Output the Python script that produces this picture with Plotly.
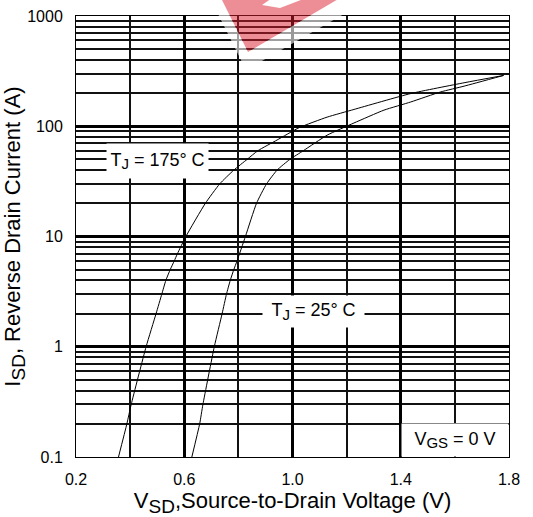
import plotly.graph_objects as go

# ---- data ----
v_175 = [0.357, 0.388, 0.404, 0.459, 0.496, 0.517, 0.532, 0.548, 0.563, 0.575, 0.606,
         0.678, 0.731, 0.783, 0.832, 0.872, 0.943, 1.024, 1.128, 1.227, 1.437, 1.634, 1.78]
i_175 = [0.1, 0.2, 0.3, 1, 2, 3, 4, 5, 6, 7, 10,
         20, 30, 40, 50, 60, 75, 97, 121, 142, 198, 248, 289]

v_25 = [0.628, 0.657, 0.669, 0.711, 0.740, 0.756, 0.770, 0.783, 0.795, 0.826,
        0.867, 0.904, 0.943, 0.99, 1.04, 1.128, 1.227, 1.338, 1.437, 1.548, 1.634, 1.78]
i_25 = [0.1, 0.2, 0.3, 1, 2, 3, 4, 5, 6, 10,
        20, 30, 40, 50, 60, 83, 107, 140, 166, 205, 231, 289]

x_ticks = [0.2, 0.6, 1.0, 1.4, 1.8]
x_ticktext = ["0.2", "0.6", "1.0", "1.4", "1.8"]
x_minor = [0.4, 0.8, 1.2, 1.6]
y_ticks = [0.1, 1, 10, 100, 1000]
y_ticktext = ["0.1", "1", "10", "100", "1000"]
y_minor = [m * d for d in [0.1, 1, 10, 100] for m in range(2, 10)]

FONT = "Liberation Sans, Arial, sans-serif"

fig = go.Figure()
fig.add_trace(go.Scatter(x=v_175, y=i_175, mode="lines",
                         line=dict(color="black", width=1, shape="spline", smoothing=0.5),
                         showlegend=False, hoverinfo="skip"))
fig.add_trace(go.Scatter(x=v_25, y=i_25, mode="lines",
                         line=dict(color="black", width=1, shape="spline", smoothing=0.5),
                         showlegend=False, hoverinfo="skip"))

W, H = 533, 517
L, R, T, B = 76, 24, 16, 60
PW, PH = W - L - R, H - T - B


def px(xp, yp):
    return (xp - L) / PW, (H - B - yp) / PH


def path(points, close=True):
    s = ""
    for k, (a, b) in enumerate(points):
        xp, yp = px(a, b)
        s += ("M" if k == 0 else "L") + f"{xp:.4f},{yp:.4f}"
    return s + ("Z" if close else "")


# watermark fragment (decoration)
outer = [(210, -2), (372, -2), (246, 70)]
inner = [(221, -2), (340, -2), (248, 52)]
shapes = [
    dict(type="path", xref="paper", yref="paper", layer="above",
         path=path(outer) + path(inner), fillrule="evenodd",
         fillcolor="rgba(255,255,255,0.6)", line=dict(width=0)),
    dict(type="path", xref="paper", yref="paper", layer="above",
         path=path(inner), fillcolor="rgba(220,30,45,0.5)", line=dict(width=0)),
    dict(type="path", xref="paper", yref="paper", layer="above",
         path=path([(262, 5), (280, 8), (306, -2), (272, -2)]),
         fillcolor="white", line=dict(width=0)),
]

ann_font = dict(family=FONT, size=18, color="black")
sub = lambda s, sz=15: f'<sub><span style="font-size:{sz}px">{s}</span></sub>'
annotations = [
    dict(x=0.502, y=1.682, xref="x", yref="y", text="T" + sub("J") + " = 175° C",
         showarrow=False, bgcolor="white", width=101, height=34, borderpad=0,
         font=ann_font),
    dict(x=1.078, y=0.318, xref="x", yref="y", text="T" + sub("J") + " = 25° C",
         showarrow=False, bgcolor="white", width=101, height=31, borderpad=0,
         font=ann_font),
    dict(x=1.6, y=-0.845, xref="x", yref="y", text="V" + sub("GS") + " = 0 V",
         showarrow=False, bgcolor="white", width=106, height=32, borderpad=0,
         font=ann_font),
]

fig.update_layout(
    width=W, height=H,
    margin=dict(l=L, r=R, t=T, b=B, autoexpand=False),
    paper_bgcolor="white", plot_bgcolor="white",
    font=dict(family=FONT, color="black"),
    shapes=shapes, annotations=annotations,
    xaxis=dict(
        range=[0.2, 1.8], tickvals=x_ticks, ticktext=x_ticktext,
        showgrid=True, gridcolor="black", gridwidth=2.6,
        minor=dict(tickvals=x_minor, showgrid=True, gridcolor="#111", gridwidth=1.5),
        ticks="", ticklabelstandoff=8, tickfont=dict(size=16),
        showline=True, linecolor="black", linewidth=1, mirror=True,
        zeroline=False,
        title=dict(text="V" + sub("SD", 19) + ",Source-to-Drain Voltage (V)",
                   font=dict(size=22), standoff=6),
    ),
    yaxis=dict(
        type="log", range=[-1, 3], tickvals=y_ticks, ticktext=y_ticktext,
        showgrid=True, gridcolor="black", gridwidth=3,
        minor=dict(tickvals=y_minor, showgrid=True, gridcolor="#111", gridwidth=1.5),
        ticks="", ticklabelstandoff=9, tickfont=dict(size=16),
        showline=True, linecolor="black", linewidth=1, mirror=True,
        zeroline=False,
        title=dict(text="I" + sub("SD", 19) + ", Reverse Drain Current (A)",
                   font=dict(size=22), standoff=8),
    ),
)

fig.write_html("out.html", config={"displayModeBar": False},
               post_script="document.body.style.margin='0';")
